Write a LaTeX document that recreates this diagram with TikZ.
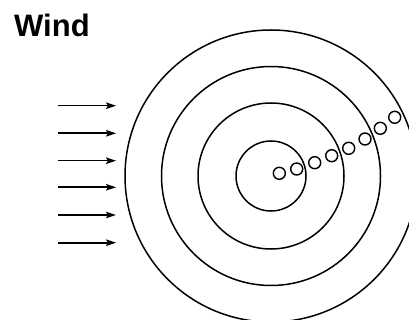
\documentclass[tikz,border=0pt]{standalone}
\usepackage{fontspec}
\setmainfont{Liberation Sans}
\usetikzlibrary{arrows.meta}
\begin{document}
\begin{tikzpicture}[x=1pt,y=-1pt,
  ring/.style={draw,line width=1.5pt},
  bubble/.style={draw,circle,line width=1.4pt,minimum size=12pt,inner sep=0pt},
  windarrow/.style={line width=1.6pt,-{Stealth[length=10pt,width=6.5pt,inset=2pt]}}]
\useasboundingbox (0,0) rectangle (409,320);
\clip (0,0) rectangle (409,320);
\node[anchor=base west,font=\bfseries\fontsize{31}{31}\selectfont,inner sep=0pt] (wind) at (14,37) {Wind};
\coordinate (c) at (271,176);
\draw[ring] (c) circle (35);
\draw[ring] (c) circle (73);
\draw[ring] (c) circle (109.5);
\draw[ring] (c) circle (146);
\foreach \i/\x/\y in {1/279.3/173.3,2/296.7/169,3/314.7/162.7,4/331.7/155.7,5/348.7/148.3,6/365/139,7/380.3/128.3,8/394.7/117.3}
  \node[bubble] (b\i) at (\x,\y) {};
\foreach \i/\y in {1/105.7,2/133.3,3/160.7,4/187.3,5/215,6/242.7}{
  \coordinate (s\i) at (58,\y);
  \coordinate (e\i) at (116,\y);
  \draw[windarrow] (s\i) -- (e\i);
}
\end{tikzpicture}
\end{document}
